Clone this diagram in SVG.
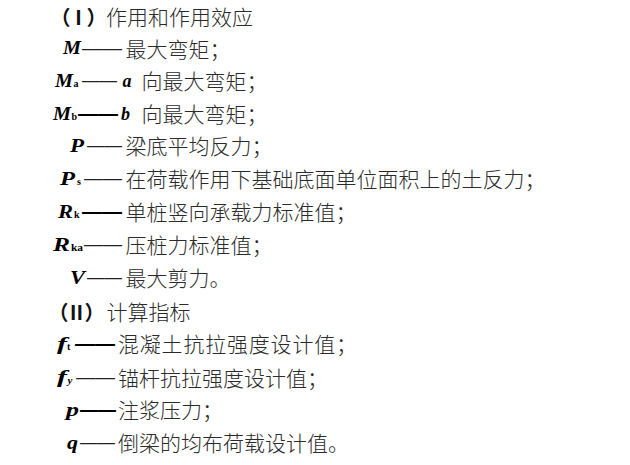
<svg xmlns="http://www.w3.org/2000/svg" width="630" height="465" viewBox="0 0 630 465">
<style>
.cjk{font-family:"Noto Sans CJK SC","Noto Sans",sans-serif;font-size:21px;font-weight:300;fill:#2a2a2a;}
.hd{font-family:"Noto Sans CJK SC","Noto Sans",sans-serif;font-size:20px;font-weight:bold;fill:#111;letter-spacing:-2px;}
.sym{font-family:"Liberation Serif","DejaVu Serif",serif;font-size:18px;font-weight:bold;font-style:italic;fill:#000;}
.sub{font-family:"Liberation Serif","DejaVu Serif",serif;font-size:10px;font-weight:bold;fill:#000;}
.subi{font-family:"Liberation Serif","DejaVu Serif",serif;font-size:11px;font-weight:bold;font-style:italic;fill:#000;}
.dash{font-family:"Liberation Sans","Arial",sans-serif;font-size:21px;fill:#222;}
.dashb{font-family:"Liberation Sans","Arial",sans-serif;font-size:21px;font-weight:bold;fill:#000;}
</style>
<rect width="630" height="465" fill="#fff"/>
<g id="sec1">
<text class="hd" x="50.5" y="24.5">（Ⅰ）</text>
<text class="cjk" x="106" y="24.5">作用和作用效应</text>
</g>
<g id="M">
<text class="sym" x="63" y="54" textLength="18" lengthAdjust="spacingAndGlyphs">M</text>
<text class="dash" x="82" y="54.5" textLength="40" lengthAdjust="spacingAndGlyphs">——</text>
<text class="cjk" x="125.5" y="56.5">最大弯矩；</text>
</g>
<g id="Ma">
<text class="sym" x="55" y="86.5" textLength="18" lengthAdjust="spacingAndGlyphs">M</text>
<text class="sub" x="73.5" y="87">a</text>
<text class="dash" x="82" y="87" textLength="35" lengthAdjust="spacingAndGlyphs">——</text>
<text class="sym" x="122.5" y="86.5">a</text>
<text class="cjk" x="141.5" y="89">向最大弯矩；</text>
</g>
<g id="Mb">
<text class="sym" x="53" y="119.5" textLength="18" lengthAdjust="spacingAndGlyphs">M</text>
<text class="sub" x="71.5" y="120">b</text>
<text class="dashb" x="78" y="120" textLength="40" lengthAdjust="spacingAndGlyphs">——</text>
<text class="sym" x="121" y="119.5">b</text>
<text class="cjk" x="141.5" y="122">向最大弯矩；</text>
</g>
<g id="P">
<text class="sym" x="70" y="151.5" textLength="14" lengthAdjust="spacingAndGlyphs">P</text>
<text class="dash" x="87" y="152" textLength="35" lengthAdjust="spacingAndGlyphs">——</text>
<text class="cjk" x="125.5" y="154">梁底平均反力；</text>
</g>
<g id="Ps">
<text class="sym" x="60" y="184.5" textLength="15" lengthAdjust="spacingAndGlyphs">P</text>
<text class="sub" x="77" y="185">s</text>
<text class="dash" x="84" y="185" textLength="38" lengthAdjust="spacingAndGlyphs">——</text>
<text class="cjk" x="125.5" y="187">在荷载作用下基础底面单位面积上的土反力；</text>
</g>
<g id="Rk">
<text class="sym" x="58" y="217.5" textLength="15" lengthAdjust="spacingAndGlyphs">R</text>
<text class="sub" x="74" y="218">k</text>
<text class="dashb" x="82" y="218" textLength="40" lengthAdjust="spacingAndGlyphs">——</text>
<text class="cjk" x="125.5" y="220">单桩竖向承载力标准值；</text>
</g>
<g id="Rka">
<text class="sym" x="53" y="250.5" textLength="17" lengthAdjust="spacingAndGlyphs">R</text>
<text class="sub" x="71" y="251" textLength="12" lengthAdjust="spacingAndGlyphs">ka</text>
<text class="dash" x="84" y="251" textLength="38" lengthAdjust="spacingAndGlyphs">——</text>
<text class="cjk" x="125.5" y="253">压桩力标准值；</text>
</g>
<g id="V">
<text class="sym" x="70" y="283.5" textLength="15" lengthAdjust="spacingAndGlyphs">V</text>
<text class="dash" x="87" y="284" textLength="35" lengthAdjust="spacingAndGlyphs">——</text>
<text class="cjk" x="125.5" y="286">最大剪力。</text>
</g>
<g id="sec2">
<text class="hd" x="48.5" y="319.5">（Ⅱ）</text>
<text class="cjk" x="106.5" y="319.5">计算指标</text>
</g>
<g id="ft">
<text class="sym" x="57" y="349.5" textLength="10" lengthAdjust="spacingAndGlyphs">f</text>
<text class="sub" x="67" y="350">t</text>
<text class="dashb" x="75" y="350" textLength="40" lengthAdjust="spacingAndGlyphs">——</text>
<text class="cjk" x="118" y="352" letter-spacing="0.8">混凝土抗拉强度设计值；</text>
</g>
<g id="fy">
<text class="sym" x="57" y="383" textLength="10" lengthAdjust="spacingAndGlyphs">f</text>
<text class="subi" x="67.5" y="384">y</text>
<text class="dash" x="76" y="383.5" textLength="39" lengthAdjust="spacingAndGlyphs">——</text>
<text class="cjk" x="118" y="385.5">锚杆抗拉强度设计值；</text>
</g>
<g id="p">
<text class="sym" x="66" y="415.5" textLength="13" lengthAdjust="spacingAndGlyphs">p</text>
<text class="dashb" x="80" y="416" textLength="36" lengthAdjust="spacingAndGlyphs">——</text>
<text class="cjk" x="118" y="418">注浆压力；</text>
</g>
<g id="q">
<text class="sym" x="67" y="448.5" textLength="11" lengthAdjust="spacingAndGlyphs">q</text>
<text class="dash" x="80" y="449" textLength="35" lengthAdjust="spacingAndGlyphs">——</text>
<text class="cjk" x="118" y="451">倒梁的均布荷载设计值。</text>
</g>
</svg>
